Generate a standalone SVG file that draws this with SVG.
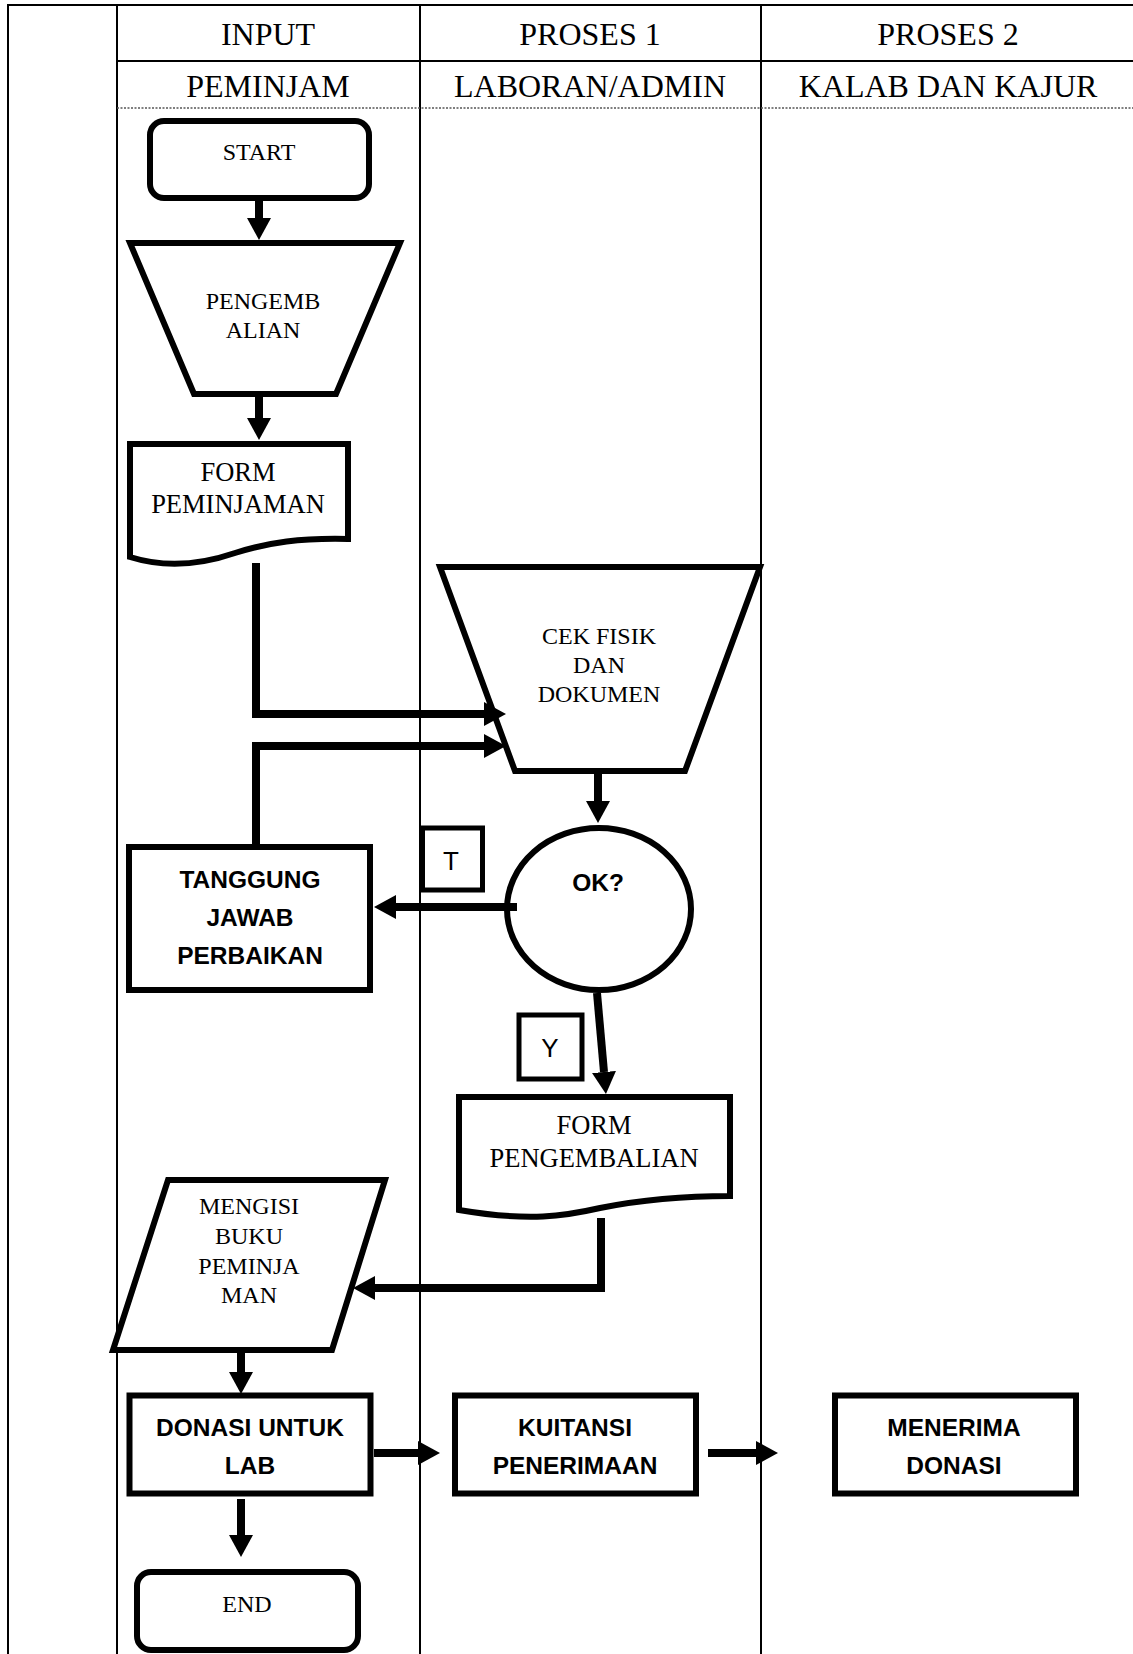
<svg xmlns="http://www.w3.org/2000/svg" width="1133" height="1654" viewBox="0 0 1133 1654">
<style>
.lane{stroke:#000;stroke-width:2;fill:none}
.dash{stroke:#555;stroke-width:1.3;stroke-dasharray:2 1.5;fill:none}
.node{fill:#fff;stroke:#000;stroke-width:6;stroke-linejoin:miter}
.lbl{fill:#fff;stroke:#000;stroke-width:5}
.conn{fill:none;stroke:#000;stroke-width:8;stroke-linejoin:miter;marker-end:url(#ah)}
.hd{font-family:"Liberation Serif","Times New Roman",serif;font-size:32px;text-anchor:middle;fill:#000}
.sr{font-family:"Liberation Serif","Times New Roman",serif;font-size:24px;text-anchor:middle;fill:#000}
.sr26{font-family:"Liberation Serif","Times New Roman",serif;font-size:26.5px;text-anchor:middle;fill:#000}
.sb{font-family:"Liberation Sans",Arial,sans-serif;font-size:24.5px;font-weight:bold;text-anchor:middle;fill:#000}
.sn{font-family:"Liberation Sans",Arial,sans-serif;font-size:26px;text-anchor:middle;fill:#000}
</style>
<defs>
<marker id="ah" markerUnits="userSpaceOnUse" viewBox="0 -12 22 24" markerWidth="22" markerHeight="24" refX="0" refY="0" orient="auto">
<path d="M0,-12 L22,0 L0,12 Z" fill="#000"/>
</marker>
</defs>
<rect x="0" y="0" width="1133" height="1654" fill="#fff"/>
<g id="lanes">
<line class="lane" x1="7" y1="5" x2="1133" y2="5"/>
<line class="lane" x1="8" y1="4" x2="8" y2="1654"/>
<line class="lane" x1="117" y1="5" x2="117" y2="1654"/>
<line class="lane" x1="420" y1="5" x2="420" y2="1654"/>
<line class="lane" x1="761" y1="5" x2="761" y2="1654"/>
<line class="lane" x1="117" y1="61" x2="1133" y2="61"/>
<line class="dash" x1="117" y1="108" x2="1133" y2="108"/>
<text class="hd" x="268" y="45">INPUT</text>
<text class="hd" x="590" y="45">PROSES 1</text>
<text class="hd" x="948" y="45">PROSES 2</text>
<text class="hd" x="268" y="97">PEMINJAM</text>
<text class="hd" x="590" y="97">LABORAN/ADMIN</text>
<text class="hd" x="948" y="97">KALAB DAN KAJUR</text>
</g>
<g id="start">
<rect class="node" x="150" y="121" width="219" height="77" rx="14"/>
<text class="sr" x="259" y="160">START</text>
</g>
<g id="pengembalian">
<polygon class="node" points="130,243 400,243 336,394 194,394"/>
<text class="sr" x="263" y="309">PENGEMB</text>
<text class="sr" x="263" y="338">ALIAN</text>
</g>
<g id="form-peminjaman">
<path class="node" d="M130,444 L348,444 L348,539 C300,538 270,542 235,553 C200,565 165,568 130,557 Z"/>
<text class="sr26" x="238" y="481">FORM</text>
<text class="sr26" x="238" y="513">PEMINJAMAN</text>
</g>
<g id="cek-fisik">
<polygon class="node" points="440,567 760,567 685,771 515,771"/>
<text class="sr" x="599" y="644">CEK FISIK</text>
<text class="sr" x="599" y="673">DAN</text>
<text class="sr" x="599" y="702">DOKUMEN</text>
</g>
<g id="ok">
<ellipse class="node" cx="599" cy="909" rx="92" ry="81"/>
<text class="sb" x="598" y="891">OK?</text>
</g>
<g id="label-t">
<rect class="lbl" x="422.5" y="828" width="60" height="62"/>
<text class="sn" x="451" y="870">T</text>
</g>
<g id="tanggung-jawab">
<rect class="node" x="129" y="847" width="241" height="143"/>
<text class="sb" x="250" y="888">TANGGUNG</text>
<text class="sb" x="250" y="926">JAWAB</text>
<text class="sb" x="250" y="964">PERBAIKAN</text>
</g>
<g id="label-y">
<rect class="lbl" x="519" y="1015" width="63" height="64"/>
<text class="sn" x="550" y="1057">Y</text>
</g>
<g id="form-pengembalian">
<path class="node" d="M459,1097 L730,1097 L730,1196 C680,1196 640,1200 600,1208 C565,1216 530,1222 459,1210 Z"/>
<text class="sr26" x="594" y="1134">FORM</text>
<text class="sr26" x="594" y="1167">PENGEMBALIAN</text>
</g>
<g id="mengisi-buku">
<polygon class="node" points="168,1180 385,1180 332,1350 113,1350"/>
<text class="sr" x="249" y="1214">MENGISI</text>
<text class="sr" x="249" y="1244">BUKU</text>
<text class="sr" x="249" y="1274">PEMINJA</text>
<text class="sr" x="249" y="1303">MAN</text>
</g>
<g id="donasi">
<rect class="node" x="129.5" y="1395.5" width="241" height="98"/>
<text class="sb" x="250" y="1436">DONASI UNTUK</text>
<text class="sb" x="250" y="1474">LAB</text>
</g>
<g id="kuitansi">
<rect class="node" x="455" y="1395.5" width="241" height="98"/>
<text class="sb" x="575" y="1436">KUITANSI</text>
<text class="sb" x="575" y="1474">PENERIMAAN</text>
</g>
<g id="menerima">
<rect class="node" x="835" y="1395.5" width="241" height="98"/>
<text class="sb" x="954" y="1436">MENERIMA</text>
<text class="sb" x="954" y="1474">DONASI</text>
</g>
<g id="end">
<rect class="node" x="137" y="1572" width="221" height="78" rx="14"/>
<text class="sr" x="247" y="1612">END</text>
</g>
<g id="connectors">
<path class="conn" d="M259,200 V218"/>
<path class="conn" d="M259,397 V418"/>
<path class="conn" d="M256,563 V714 H484"/>
<path class="conn" d="M256,846 V746 H484"/>
<path class="conn" d="M598,773 V801"/>
<path class="conn" d="M517,907 H396"/>
<path class="conn" d="M597,993 L604,1072"/>
<path class="conn" d="M601,1218 V1288 H375"/>
<path class="conn" d="M241,1353 V1372"/>
<path class="conn" d="M374,1453 H418"/>
<path class="conn" d="M708,1453 H756"/>
<path class="conn" d="M241,1499 V1535"/>
</g>
</svg>
